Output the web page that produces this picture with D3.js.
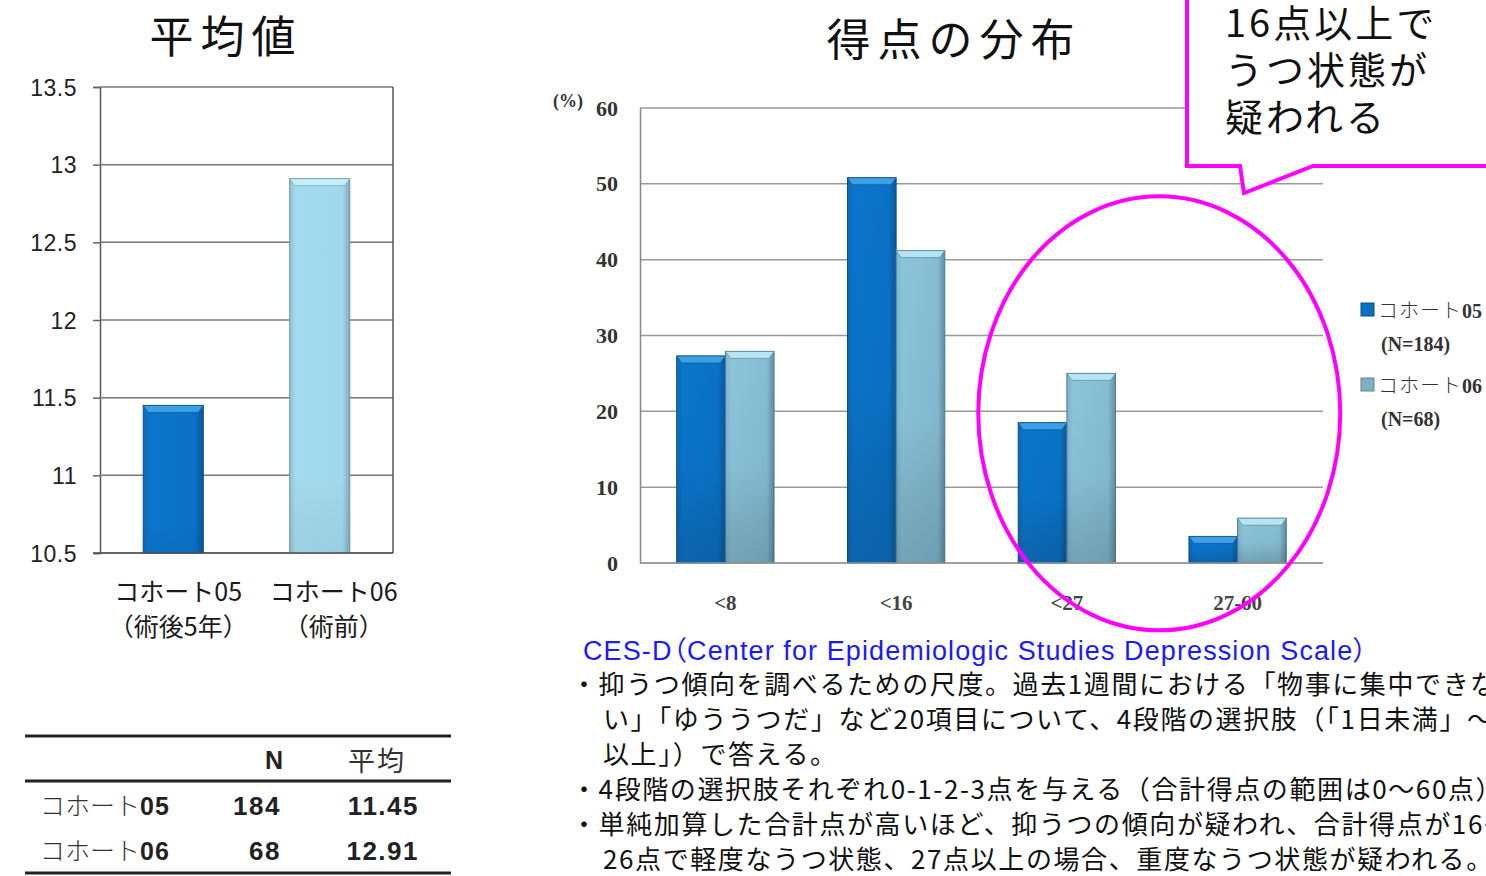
<!DOCTYPE html>
<html><head><meta charset="utf-8">
<script src="https://cdn.jsdelivr.net/npm/d3@7"></script>
<style>
body{margin:0;background:#fff;}
svg{display:block;}
</style></head><body>
<svg id="c" width="1486" height="876"></svg>
<script>
// Mean CES-D score per cohort
const cohorts = ["コホート05", "コホート06"];
const cohortSub = ["（術後5年）", "（術前）"];
const meanScores = [11.45, 12.91];
const meanTicks = [10.5, 11, 11.5, 12, 12.5, 13, 13.5];

// Distribution of scores (%) per score band
const scoreBands = ["<8", "<16", "<27", "27-60"];
const dist05 = [27.3, 50.8, 18.5, 3.5];
const dist06 = [27.9, 41.2, 25.0, 5.9];
const distTicks = [0, 10, 20, 30, 40, 50, 60];
const seriesKana = ["コホート", "コホート"];
const seriesNo = ["05", "06"];
const seriesN = ["(N=184)", "(N=68)"];

// Summary table
const tableHead = ["N", "平均"];
const tableN = [184, 68];

// Explanatory notes: [bullet?, text]
const noteTitle = "CES-D（Center for Epidemiologic Studies Depression Scale）";
const noteLines = [
  [true, "抑うつ傾向を調べるための尺度。過去1週間における「物事に集中できな"],
  [false, "い」「ゆううつだ」など20項目について、4段階の選択肢（「1日未満」～「5日"],
  [false, "以上」）で答える。"],
  [true, "4段階の選択肢それぞれ0-1-2-3点を与える（合計得点の範囲は0～60点）"],
  [true, "単純加算した合計点が高いほど、抑うつの傾向が疑われ、合計得点が16～"],
  [false, "26点で軽度なうつ状態、27点以上の場合、重度なうつ状態が疑われる。"]
];
const calloutLines = ["16点以上で", "うつ状態が", "疑われる"];

const JP = "'Noto Sans CJK JP', 'Noto Sans', sans-serif";
const SERIF = "'Liberation Serif', 'DejaVu Serif', 'Noto Sans CJK JP', serif";
const SANS = "'Liberation Sans', Arial, 'Noto Sans CJK JP', sans-serif";

const svg = d3.select("#c");
const defs = svg.append("defs");

function hGrad(id, stops) {
  const g = defs.append("linearGradient").attr("id", id)
    .attr("x1", 0).attr("x2", 1).attr("y1", 0).attr("y2", 0);
  stops.forEach(s => g.append("stop").attr("offset", s[0]).attr("stop-color", s[1]));
}
function vGrad(id, stops) {
  const g = defs.append("linearGradient").attr("id", id)
    .attr("x1", 0).attr("x2", 0).attr("y1", 0).attr("y2", 1);
  stops.forEach(s => g.append("stop").attr("offset", s[0]).attr("stop-color", s[1]).attr("stop-opacity", s[2] ?? 1));
}
hGrad("darkH", [[0, "#0d69b8"], [0.12, "#0b76cc"], [0.85, "#0a72c6"], [1, "#08579c"]]);
hGrad("lightH", [[0, "#7fb4ca"], [0.12, "#8cc4da"], [0.85, "#86bdd3"], [1, "#5f8fa3"]]);
hGrad("paleH", [[0, "#8ec4d8"], [0.1, "#a4daed"], [0.88, "#a2d8eb"], [1, "#7eaabb"]]);
vGrad("shadeV", [[0, "#000", 0], [0.55, "#000", 0.03], [1, "#123", 0.2]]);
vGrad("shadeLite", [[0, "#000", 0], [0.8, "#000", 0], [1, "#123", 0.06]]);

// Bar with a bevelled top cap
function bevelBar(g, x, w, yTop, yBase, fillId, capColor, edge, shadeId) {
  g.append("rect").attr("x", x).attr("y", yTop).attr("width", w).attr("height", yBase - yTop)
    .attr("fill", `url(#${fillId})`).attr("stroke", edge).attr("stroke-width", 1);
  g.append("rect").attr("x", x).attr("y", yTop).attr("width", w).attr("height", yBase - yTop)
    .attr("fill", `url(#${shadeId})`);
  const cap = Math.min(7, (yBase - yTop) / 2);
  g.append("polygon")
    .attr("points", [[x, yTop], [x + w, yTop], [x + w - 5, yTop + cap], [x + 5, yTop + cap]].map(p => p.join(",")).join(" "))
    .attr("fill", capColor).attr("stroke", edge).attr("stroke-width", 0.6);
}

/* ---------- Left: mean score ---------- */
{
  const L = { x0: 100, x1: 393, y0: 87, y1: 553 };
  const x = d3.scaleBand().domain(cohorts).range([L.x0, L.x1]).paddingInner(0.59).paddingOuter(0.295);
  const y = d3.scaleLinear().domain([10.5, 13.5]).range([L.y1, L.y0]);
  const g = svg.append("g");

  svg.append("text").attr("x", 226).attr("y", 53).attr("text-anchor", "middle")
    .attr("font-family", JP).attr("font-size", 44).attr("letter-spacing", 7).attr("fill", "#111")
    .text("平均値");

  const yAxis = g.append("g").attr("transform", `translate(${L.x0},0)`)
    .call(d3.axisLeft(y).tickValues(meanTicks).tickSize(7).tickPadding(16)
      .tickFormat(d => String(d)));
  yAxis.select(".domain").attr("stroke", "#555").attr("stroke-width", 1.5);
  yAxis.selectAll(".tick line").attr("stroke", "#666").attr("stroke-width", 1.5);
  yAxis.selectAll(".tick text").attr("font-family", SANS).attr("font-size", 23).attr("fill", "#222")
    .attr("dy", "0.35em").attr("letter-spacing", 0.5);

  // grid and frame
  g.append("g").selectAll("line").data(meanTicks).join("line")
    .attr("x1", L.x0).attr("x2", L.x1).attr("y1", d => y(d)).attr("y2", d => y(d))
    .attr("stroke", "#777").attr("stroke-width", 1.5);
  g.append("line").attr("x1", L.x1).attr("x2", L.x1).attr("y1", L.y0).attr("y2", L.y1)
    .attr("stroke", "#555").attr("stroke-width", 1.5);

  const fills = ["darkH", "paleH"], caps = ["#3da0e6", "#c6eef8"], edges = ["#0a4f8c", "#6f9aab"];
  meanScores.forEach((v, i) => {
    bevelBar(g, x(cohorts[i]), x.bandwidth(), y(v), y(10.5), fills[i], caps[i], edges[i], "shadeLite");
  });
  g.append("line").attr("x1", L.x0 - 7).attr("x2", L.x1).attr("y1", L.y1).attr("y2", L.y1)
    .attr("stroke", "#555").attr("stroke-width", 1.5);

  const labelShift = [5, 14];
  cohorts.forEach((c, i) => {
    const cx = x(c) + x.bandwidth() / 2 + labelShift[i];
    g.append("text").attr("x", cx).attr("y", 601).attr("text-anchor", "middle")
      .attr("font-family", JP).attr("font-size", 25).attr("fill", "#1a1a1a").text(c);
    g.append("text").attr("x", cx).attr("y", 636).attr("text-anchor", "middle")
      .attr("font-family", JP).attr("font-size", 25).attr("fill", "#1a1a1a").text(cohortSub[i]);
  });
}

/* ---------- Summary table ---------- */
{
  const g = svg.append("g");
  [736, 781, 873].forEach(yy =>
    g.append("line").attr("x1", 25).attr("x2", 451).attr("y1", yy).attr("y2", yy)
      .attr("stroke", "#222").attr("stroke-width", 3));
  g.append("text").attr("x", 274).attr("y", 769).attr("text-anchor", "middle")
    .attr("font-family", SANS).attr("font-weight", "bold").attr("font-size", 25).attr("fill", "#222").text(tableHead[0]);
  g.append("text").attr("x", 377).attr("y", 771).attr("text-anchor", "middle")
    .attr("font-family", JP).attr("font-size", 27).attr("letter-spacing", 2).attr("fill", "#333").text(tableHead[1]);
  tableN.forEach((n, i) => {
    const yy = 815 + i * 45;
    const t = g.append("text").attr("x", 40).attr("y", yy).attr("font-size", 25).attr("fill", "#333");
    t.append("tspan").attr("font-family", JP).attr("font-weight", 300).text(seriesKana[i]);
    t.append("tspan").attr("font-family", SANS).attr("font-weight", "bold").attr("fill", "#222")
      .attr("letter-spacing", 1).text(seriesNo[i]);
    g.append("text").attr("x", 281).attr("y", yy).attr("text-anchor", "end").attr("letter-spacing", 1.5)
      .attr("font-family", SANS).attr("font-weight", "bold").attr("font-size", 26).attr("fill", "#222").text(n);
    g.append("text").attr("x", 419).attr("y", yy).attr("text-anchor", "end").attr("letter-spacing", 1.5)
      .attr("font-family", SANS).attr("font-weight", "bold").attr("font-size", 26).attr("fill", "#222")
      .text(meanScores[i].toFixed(2));
  });
}

/* ---------- Right: score distribution ---------- */
let xB, yB;
{
  const R = { x0: 640, x1: 1323, y0: 108, y1: 563 };
  xB = d3.scaleBand().domain(scoreBands).range([R.x0, R.x1]).paddingInner(0.43).paddingOuter(0.215);
  const x1 = d3.scaleBand().domain(seriesNo).range([0, xB.bandwidth()]);
  yB = d3.scaleLinear().domain([0, 60]).range([R.y1, R.y0]);
  const g = svg.append("g");

  svg.append("text").attr("x", 954).attr("y", 56).attr("text-anchor", "middle")
    .attr("font-family", JP).attr("font-size", 44).attr("letter-spacing", 7).attr("fill", "#111")
    .text("得点の分布");

  g.append("g").selectAll("line").data(distTicks).join("line")
    .attr("x1", R.x0).attr("x2", R.x1).attr("y1", d => yB(d)).attr("y2", d => yB(d))
    .attr("stroke", "#999").attr("stroke-width", 1.5);

  const yAxis = g.append("g").attr("transform", `translate(${R.x0},0)`)
    .call(d3.axisLeft(yB).tickValues(distTicks).tickSize(0).tickPadding(22));
  yAxis.select(".domain").attr("stroke", "#888").attr("stroke-width", 1.5);
  yAxis.selectAll(".tick text").attr("font-family", SERIF).attr("font-weight", "bold")
    .attr("font-size", 22).attr("fill", "#333");
  g.append("text").attr("x", 568).attr("y", yB(60) - 1).attr("text-anchor", "middle")
    .attr("font-family", SERIF).attr("font-weight", "bold").attr("font-size", 18).attr("fill", "#333").text("(%)");

  const series = [dist05, dist06];
  const fills = ["darkH", "lightH"], caps = ["#3da0e6", "#b6e4f3"], edges = ["#0a4f8c", "#4f7c8e"];
  scoreBands.forEach((b, j) => {
    series.forEach((s, i) => {
      bevelBar(g, xB(b) + x1(seriesNo[i]), x1.bandwidth(), yB(s[j]), yB(0), fills[i], caps[i], edges[i], "shadeV");
    });
  });
  g.append("line").attr("x1", R.x0).attr("x2", R.x1).attr("y1", R.y1).attr("y2", R.y1)
    .attr("stroke", "#999").attr("stroke-width", 1.5);

  const xAxis = g.append("g").attr("transform", `translate(0,${R.y1})`)
    .call(d3.axisBottom(xB).tickSize(0).tickPadding(32));
  xAxis.select(".domain").remove();
  xAxis.selectAll(".tick text").attr("font-family", SERIF).attr("font-weight", "bold")
    .attr("font-size", 21).attr("fill", "#444");

  // legend
  const lg = svg.append("g");
  const swatch = ["#0b6fc0", "#7fb0c4"];
  seriesNo.forEach((n, i) => {
    const top = 303 + i * 75;
    lg.append("rect").attr("x", 1361).attr("y", top).attr("width", 13).attr("height", 13)
      .attr("fill", swatch[i]).attr("stroke", i ? "#5a8799" : "#0a4f8c");
    const t = lg.append("text").attr("x", 1378).attr("y", top + 15).attr("font-size", 20).attr("fill", "#333");
    t.append("tspan").attr("font-family", JP).attr("font-weight", 300).attr("letter-spacing", 1).text(seriesKana[i]);
    t.append("tspan").attr("font-family", SERIF).attr("font-weight", "bold").text(n);
    lg.append("text").attr("x", 1381).attr("y", top + 48).attr("font-family", SERIF).attr("font-weight", "bold")
      .attr("font-size", 20).attr("fill", "#333").text(seriesN[i]);
  });
}

/* ---------- Annotations ---------- */
{
  const mag = "#ff00ff";
  const cx = (xB("<27") + xB("27-60") + xB.bandwidth()) / 2 + 7;
  svg.append("ellipse").attr("cx", cx).attr("cy", yB(20) + 2).attr("rx", 181).attr("ry", 217)
    .attr("fill", "none").attr("stroke", mag).attr("stroke-width", 4);

  const bottom = 166;
  svg.append("path")
    .attr("d", `M1187,-10 L1187,${bottom} L1240,${bottom} L1244,193 L1313,${bottom} L1500,${bottom} L1500,-10`)
    .attr("fill", "#fff").attr("stroke", mag).attr("stroke-width", 4).attr("stroke-linejoin", "miter");
  calloutLines.forEach((t, i) => {
    svg.append("text").attr("x", 1225).attr("y", 37 + i * 47)
      .attr("font-family", JP).attr("font-size", 38).attr("letter-spacing", 3).attr("fill", "#111").text(t);
  });
}

/* ---------- Notes ---------- */
{
  const g = svg.append("g");
  g.append("text").attr("x", 583).attr("y", 660).attr("font-family", SANS).attr("font-size", 27)
    .attr("letter-spacing", 1.1).style("font-feature-settings", "'palt'")
    .attr("fill", "#1a1aff").text(noteTitle);
  noteLines.forEach(([bullet, t], i) => {
    g.append("text").attr("x", bullet ? 571 : 603).attr("y", 694 + i * 35).attr("font-family", JP)
      .attr("font-size", 26).attr("letter-spacing", 1.6).attr("fill", "#111")
      .text(bullet ? "・" + t : t);
  });
}
</script>
</body></html>
